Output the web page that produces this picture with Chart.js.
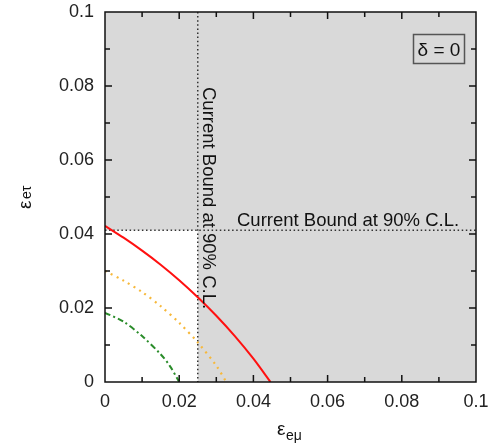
<!DOCTYPE html>
<html>
<head>
<meta charset="utf-8">
<script src="https://cdn.jsdelivr.net/npm/chart.js@4/dist/chart.umd.min.js"></script>
<style>
html,body{margin:0;padding:0;background:#fff;}
#wrap{width:492px;height:445px;}
</style>
</head>
<body>
<div id="wrap"><canvas id="c" width="492" height="445"></canvas></div>
<script>
// Data
const redX    = [0, 0.005, 0.010, 0.015, 0.020, 0.025, 0.030, 0.035, 0.040, 0.0446];
const redY    = [0.0422, 0.0390, 0.0355, 0.0317, 0.0275, 0.0229, 0.0179, 0.0124, 0.0063, 0];
const orangeX = [0, 0.005, 0.010, 0.015, 0.020, 0.025, 0.030, 0.0327];
const orangeY = [0.0300, 0.0274, 0.0243, 0.0205, 0.0160, 0.0107, 0.0044, 0];
const greenX  = [0, 0.005, 0.010, 0.015, 0.0175, 0.0200];
const greenY  = [0.0187, 0.0163, 0.0124, 0.0075, 0.0043, 0];
const boundX = 0.025;   // current bound on eps_emu
const boundY = 0.041;   // current bound on eps_etau
const xTickLabels = ['0', '0.02', '0.04', '0.06', '0.08', '0.1'];
const yTickLabels = ['0', '0.02', '0.04', '0.06', '0.08', '0.1'];
const boundText = 'Current Bound at 90% C.L.';
const deltaText = 'δ = 0';

const pts = (xs, ys) => xs.map((x, i) => ({x: x, y: ys[i]}));
const FONT = '"Liberation Sans", Arial, sans-serif';

const decor = {
  id: 'decor',
  beforeDatasetsDraw(chart) {
    const {ctx, chartArea: a, scales: {x, y}} = chart;
    ctx.save();
    ctx.fillStyle = '#d9d9d9';
    ctx.fillRect(a.left, a.top, a.right - a.left, a.bottom - a.top);
    ctx.fillStyle = '#ffffff';
    const px = x.getPixelForValue(boundX), py = y.getPixelForValue(boundY);
    ctx.fillRect(a.left, py, px - a.left, a.bottom - py);
    ctx.strokeStyle = '#333';
    ctx.lineWidth = 1.5;
    ctx.setLineDash([1.5, 2.6]);
    ctx.beginPath();
    ctx.moveTo(px, a.top); ctx.lineTo(px, a.bottom);
    ctx.moveTo(a.left, py); ctx.lineTo(a.right, py);
    ctx.stroke();
    ctx.restore();
  },
  afterDatasetsDraw(chart) {
    const {ctx, chartArea: a, scales: {x, y}} = chart;
    ctx.save();
    ctx.strokeStyle = '#111';
    ctx.lineWidth = 1.5;
    ctx.setLineDash([]);
    ctx.strokeRect(a.left, a.top, a.right - a.left, a.bottom - a.top);
    ctx.beginPath();
    for (let k = 1; k < 10; k++) {
      const v = k * 0.01;
      const len = (k % 2 === 0) ? 7 : 5;
      const xp = x.getPixelForValue(v);
      const yp = y.getPixelForValue(v);
      ctx.moveTo(xp, a.bottom); ctx.lineTo(xp, a.bottom - len);
      ctx.moveTo(xp, a.top); ctx.lineTo(xp, a.top + len);
      ctx.moveTo(a.left, yp); ctx.lineTo(a.left + len, yp);
      ctx.moveTo(a.right, yp); ctx.lineTo(a.right - len, yp);
    }
    ctx.stroke();

    // bound annotations
    ctx.fillStyle = '#111';
    ctx.font = '18.5px ' + FONT;
    ctx.textBaseline = 'alphabetic';
    ctx.textAlign = 'left';
    ctx.fillText(boundText, 237, 226);
    ctx.save();
    ctx.translate(203, 87);
    ctx.rotate(Math.PI / 2);
    ctx.fillText(boundText, 0, 0);
    ctx.restore();

    // delta box
    ctx.fillStyle = '#d9d9d9';
    ctx.fillRect(413.5, 34.5, 51, 29);
    ctx.strokeStyle = '#555';
    ctx.lineWidth = 1.5;
    ctx.strokeRect(413.5, 34.5, 51, 29);
    ctx.fillStyle = '#111';
    ctx.font = '19px ' + FONT;
    ctx.textAlign = 'center';
    ctx.fillText(deltaText, 439, 56);

    // axis titles
    ctx.textAlign = 'left';
    ctx.font = '19px ' + FONT;
    ctx.fillText('ε', 277, 435);
    ctx.font = '14px ' + FONT;
    ctx.fillText('eμ', 286, 440);

    ctx.save();
    ctx.translate(31, 209);
    ctx.rotate(-Math.PI / 2);
    ctx.font = '19px ' + FONT;
    ctx.fillText('ε', 0, 0);
    ctx.font = '14px ' + FONT;
    ctx.fillText('eτ', 10, 0);
    ctx.restore();
    ctx.restore();
  }
};

const noPad = s => { s.paddingTop = 0; s.paddingBottom = 0; s.paddingLeft = 0; s.paddingRight = 0; };

new Chart(document.getElementById('c'), {
  type: 'scatter',
  data: {
    datasets: [
      {data: pts(redX, redY), showLine: true, borderColor: '#ff1010', borderWidth: 2, pointRadius: 0, tension: 0.3},
      {data: pts(orangeX, orangeY), showLine: true, borderColor: '#f7b83a', borderWidth: 2.2, borderDash: [2, 4.5], pointRadius: 0, tension: 0.3},
      {data: pts(greenX, greenY), showLine: true, borderColor: '#2a8c2a', borderWidth: 2, borderDash: [6, 3, 2, 3], pointRadius: 0, tension: 0.3}
    ]
  },
  options: {
    responsive: false,
    animation: false,
    devicePixelRatio: 1,
    layout: {padding: {top: 12, right: 16, left: 0, bottom: 0}},
    plugins: {legend: {display: false}, tooltip: {enabled: false}},
    scales: {
      x: {
        type: 'linear', min: 0, max: 0.1,
        grid: {display: false, drawTicks: false},
        border: {display: false},
        ticks: {stepSize: 0.02, padding: 9, color: '#222', font: {size: 18, family: FONT},
                maxRotation: 0, callback: (v, i) => xTickLabels[i]},
        afterFit: s => { s.height = 63; noPad(s); }
      },
      y: {
        type: 'linear', min: 0, max: 0.1,
        grid: {display: false, drawTicks: false},
        border: {display: false},
        ticks: {stepSize: 0.02, padding: 11, color: '#222', font: {size: 18, family: FONT},
                callback: (v, i) => yTickLabels[i]},
        afterFit: s => { s.width = 105; noPad(s); }
      }
    }
  },
  plugins: [decor]
});
</script>
</body>
</html>
